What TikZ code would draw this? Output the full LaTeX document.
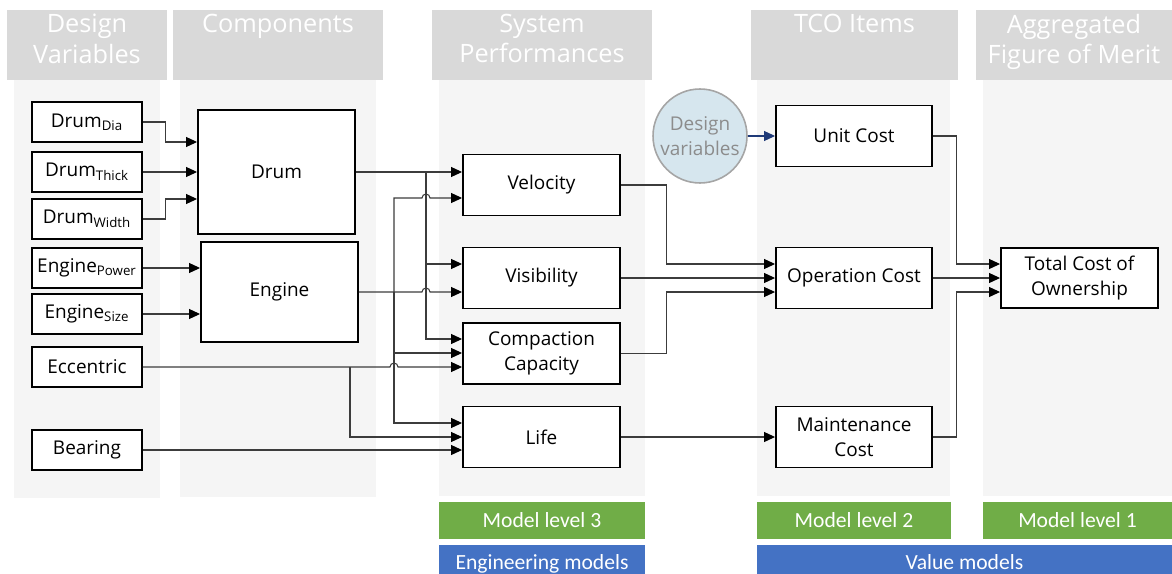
\documentclass[tikz,border=0pt]{standalone}
\usepackage{fontspec}
\setmainfont{Open Sans}
\newfontfamily\lvlfont{Carlito}
\usetikzlibrary{arrows.meta}

\definecolor{hdrgray}{HTML}{D9D9D9}
\definecolor{colbg}{HTML}{F5F5F5}
\definecolor{lvlgreen}{HTML}{70AD47}
\definecolor{lvlblue}{HTML}{4472C4}
\definecolor{linegray}{HTML}{3C3C3C}
\definecolor{circblue}{HTML}{D6E6EE}
\definecolor{circgray}{HTML}{A5A5A5}
\definecolor{circtext}{HTML}{8C8C8C}
\definecolor{navy}{HTML}{1F3A78}

\begin{document}
\begin{tikzpicture}[
	x=0.02cm, y=-0.02cm,
	font=\fontsize{10.8}{14.2}\selectfont,
	box/.style={
		draw,
		line width=1.1pt,
		fill=white,
		inner sep=0pt,
		align=center},
	varbox/.style={box, minimum width=2.2cm, minimum height=0.8cm},
	compbox/.style={box, minimum width=3.14cm},
	perfbox/.style={box, minimum width=3.14cm, minimum height=1.22cm},
	head/.style={
		anchor=north,
		inner sep=0pt,
		align=center,
		text=white,
		font=\fontsize{14.4}{17.2}\selectfont},
	level/.style={
		inner sep=0pt,
		fill=lvlgreen,
		text=white,
		minimum height=0.74cm,
		text height=7.9pt,
		text depth=0pt,
		font=\lvlfont\fontsize{12.3}{14}\selectfont},
	group/.style={level, fill=lvlblue, minimum height=0.72cm},
	conn/.style={
		draw=linegray,
		line width=0.6pt,
		-{Triangle[length=0.22cm, width=0.2cm, color=black]}},
	dvarrow/.style={
		draw=navy,
		line width=0.6pt,
		-{Triangle[length=0.22cm, width=0.2cm, color=navy]}}
	]

	\useasboundingbox (0,0) rectangle (1172,574);

	% headers and column backgrounds
	\fill[hdrgray] (7,10) rectangle (167,80);
	\fill[hdrgray] (173,10) rectangle (383,80);
	\fill[hdrgray] (432,10) rectangle (652,80);
	\fill[hdrgray] (751,10) rectangle (958,80);
	\fill[hdrgray] (976,10) rectangle (1172,80);
	\fill[colbg] (14,80) rectangle (160,498);
	\fill[colbg] (180,80) rectangle (376,497);
	\fill[colbg] (439,80) rectangle (645,496);
	\fill[colbg] (757,80) rectangle (950,496);
	\fill[colbg] (983,80) rectangle (1172,496);

	\node[head] (dvhead) at (87,14) {Design\\Variables};
	\node[head] (comphead) at (278,14) {Components};
	\node[head] (sphead) at (542,14) {System\\Performances};
	\node[head] (tcohead) at (854.5,14) {TCO Items};
	\node[head] (aggrhead) at (1074,14) {Aggregated\\Figure of Merit};

	% design variables
	\node[varbox] (dia) at (87,122) {Drum\textsubscript{Dia}};
	\node[varbox] (thick) at (87,172) {Drum\textsubscript{Thick}};
	\node[varbox] (width) at (87,219) {Drum\textsubscript{Width}};
	\node[varbox] (power) at (87,268) {Engine\textsubscript{Power}};
	\node[varbox] (size) at (87,314) {Engine\textsubscript{Size}};
	\node[varbox] (ecc) at (87,367) {Eccentric};
	\node[varbox] (bear) at (87,450) {Bearing};

	% components
	\node[compbox, minimum height=2.48cm] (drum) at (276.5,172) {Drum};
	\node[compbox, minimum height=2cm] (engine) at (279.5,292) {Engine};

	% system performances
	\node[perfbox] (vel) at (541.5,185) {Velocity};
	\node[perfbox] (vis) at (541.5,278) {Visibility};
	\node[perfbox] (comp) at (541.5,353.5) {Compaction\\Capacity};
	\node[perfbox] (life) at (541.5,437) {Life};

	% tco items
	\node[circle, draw=circgray, line width=0.9pt, fill=circblue, text=circtext,
		minimum size=1.88cm, inner sep=0pt, align=center] (dv) at (700,136) {Design\\variables};
	\node[perfbox, minimum width=3.12cm] (unit) at (854,136) {Unit Cost};
	\node[perfbox, minimum width=3.12cm] (op) at (854,278) {Operation Cost};
	\node[perfbox, minimum width=3.12cm] (maint) at (854,437) {Maintenance\\Cost};

	% figure of merit
	\node[perfbox, minimum height=1.2cm] (total) at (1079.5,278) {Total Cost of\\Ownership};

	% model levels
	\node[level, minimum width=4.12cm] (lvl3) at (542,520.5) {Model level 3};
	\node[level, minimum width=3.88cm] (lvl2) at (854,520.5) {Model level 2};
	\node[level, minimum width=3.78cm] (lvl1) at (1077.5,520.5) {Model level 1};
	\node[group, minimum width=4.12cm] (engmod) at (542,563) {Engineering models};
	\node[group, minimum width=8.3cm] (valmod) at (964.5,563) {Value models};

	% variables to components
	\draw[conn] (dia.east) -- ++(23,0) |- (drum.west |- 0,142);
	\draw[conn] (thick) -- (drum);
	\draw[conn] (width.east) -- ++(23,0) |- (drum.west |- 0,199);
	\draw[conn] (power.east) -- (engine.west |- power);
	\draw[conn] (size.east) -- (engine.west |- size);

	% components to performances
	\coordinate (dj) at (426,172);
	\coordinate (ej) at (394,292);
	\coordinate (xj) at (350,367);
	\draw[conn] (drum) -- (vel.west |- drum);
	\draw[conn] (dj) |- (vis.west |- 0,264);
	\draw[conn] (dj) |- (comp.west |- 0,339);
	\draw[conn] (engine.east) -- (422,292) arc[start angle=180, end angle=0, radius=0.08cm] -- (vis.west |- engine);
	\draw[conn] (ej) |- (422,198) arc[start angle=180, end angle=0, radius=0.08cm] -- (vel.west |- 0,198);
	\draw[conn] (ej) |- (comp.west |- 0,353);
	\draw[conn] (ej) |- (life.west |- 0,423);
	\draw[conn] (ecc.east) -- (390,367) arc[start angle=180, end angle=0, radius=0.08cm] -- (comp.west |- ecc);
	\draw[conn] (xj) |- (life.west |- 0,437);
	\draw[conn] (bear) -- (life.west |- bear);

	% performances to tco items
	\draw[conn] (vel.east) -- ++(46,0) |- (op.west |- 0,264);
	\draw[conn] (vis) -- (op);
	\draw[conn] (comp.east) -- ++(46,0) |- (op.west |- 0,292);
	\draw[conn] (life) -- (maint);
	\draw[dvarrow] (dv) -- (unit);

	% tco items to total
	\draw[conn] (unit.east) -- ++(24,0) |- (total.west |- 0,264);
	\draw[conn] (op) -- (total);
	\draw[conn] (maint.east) -- ++(24,0) |- (total.west |- 0,292);
\end{tikzpicture}
\end{document}
